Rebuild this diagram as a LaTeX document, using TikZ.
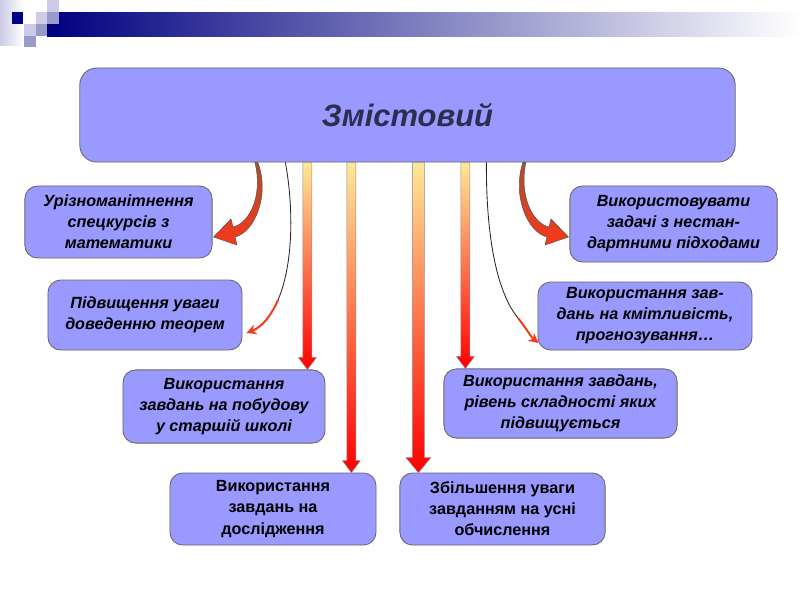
\documentclass[tikz,border=0pt]{standalone}
\usepackage{fontspec}
\setmainfont{Liberation Sans}
\usetikzlibrary{calc,arrows.meta}

\definecolor{boxblue}{RGB}{153,153,255}
\definecolor{navy}{RGB}{0,0,128}
\definecolor{lilac}{RGB}{204,204,230}
\definecolor{lilacmid}{RGB}{153,153,204}
\definecolor{pale}{RGB}{255,232,150}
\definecolor{arrred}{RGB}{250,55,25}
\definecolor{arrbrown}{RGB}{165,80,50}
\definecolor{titletext}{RGB}{45,45,80}

\begin{document}
\begin{tikzpicture}[
  x=0.025cm, y=-0.025cm,
  box/.style={draw=black!60, line width=0.6pt, rounded corners=9pt, fill=boxblue,
              align=center, inner sep=2pt, minimum height=1.8cm,
              font=\fontsize{11.5}{15}\selectfont\bfseries\itshape},
  boxup/.style={box, font=\fontsize{11.5}{15}\selectfont\bfseries},
  gradarr/.style={top color=pale, bottom color=red, draw=black!45, line width=0.3pt},
  curvarr/.style={top color=arrbrown, bottom color=arrred, draw=black!70, line width=0.3pt},
  wire/.style={draw=black!85, line width=0.6pt},
  tipline/.style={draw=arrred, line width=1.4pt, -{Stealth[length=7pt,width=7pt]}},
]
\useasboundingbox (0,0) rectangle (800,600);

%% ---------- slide decoration ----------
\shade[left color=lilac, right color=white] (0,0) rectangle (24,45);
\shade[left color=navy, right color=white] (47,12) rectangle (800,36);
\fill[lilac] (47,0) rectangle (59,12);
\fill[lilacmid] (47,12) rectangle (59,24);
\fill[lilac] (36,12) rectangle (47,24);
\fill[navy] (47,24) rectangle (59,36);
\fill[lilac] (24,24) rectangle (36,36);
\fill[lilacmid] (36,24) rectangle (47,36);
\fill[lilacmid] (24,36) rectangle (36,47);
\fill[navy] (12,12) rectangle (23,24);

%% ---------- boxes ----------
\node[box, minimum width=16.38cm, minimum height=2.35cm, rounded corners=12pt,
      font=\fontsize{22}{26}\selectfont\bfseries\itshape, text=titletext] (main) at (407.5,115) {Змістовий};

\node[box, minimum width=4.68cm] (b1) at (118.5,222) {Урізноманітнення\\спецкурсів з\\математики};
\node[box, minimum width=4.85cm, minimum height=1.75cm] (b2) at (145,315) {Підвищення уваги\\доведенню теорем};
\node[box, minimum width=5.05cm, minimum height=1.83cm] (b3) at (224,406.5) {Використання\\завдань на побудову\\у старшій школі};
\node[boxup, minimum width=5.15cm] (b4) at (273,509) {Використання\\завдань на\\дослідження};
\node[boxup, minimum width=5.13cm] (b5) at (502.5,509) {Збільшення уваги\\завданням на усні\\обчислення};
\node[box, minimum width=5.83cm, minimum height=1.73cm] (b6) at (560.5,403.5) {Використання завдань,\\рівень складності яких\\підвищується};
\node[box, minimum width=5.35cm, minimum height=1.7cm] (b7) at (645,316) {Використання зав-\\дань на кмітливість,\\прогнозування…};
\node[box, minimum width=5.18cm, minimum height=1.9cm] (b8) at (673.5,224) {Використовувати\\задачі з нестан-\\дартними підходами};

%% ---------- straight arrows ----------
\foreach \dx/\tgt/\w/\h/\l in {228/b3/4.5/9/12, 272/b4/4.5/9/12, 339/b5/6/12.5/15, 386/b6/4.5/9/12} {
  \coordinate (top) at ($(main.south west)+(\dx,0)$);
  \coordinate (tip) at (top |- \tgt.north);
  \shade[gradarr] ($(top)+(-\w,0)$) -- ($(top)+(\w,0)$) -- ($(tip)+(\w,-\l)$) -- ($(tip)+(\h,-\l)$)
    -- (tip) -- ($(tip)+(-\h,-\l)$) -- ($(tip)+(-\w,-\l)$) -- cycle;
}

%% ---------- curved arrows, thick ----------
\coordinate (s1) at ($(main.south west)+(177,0)$);
\coordinate (t1) at ($(b1.east)+(1,15)$);
\shade[curvarr] ($(s1)+(-1.5,0)$) -- ($(s1)+(1.5,0)$) .. controls (270,195) and (255,232) .. (235,237)
  -- (237,245) -- (t1) -- (231,219) -- (233,227) .. controls (250,223) and (263,195) .. cycle;

\coordinate (s3) at ($(main.south west)+(445,0)$);
\coordinate (t3) at ($(b8.west)+(-1,13)$);
\shade[curvarr] ($(s3)+(1.5,0)$) -- ($(s3)+(-1.5,0)$) .. controls (512,195) and (527,232) .. (547,237)
  -- (545,245) -- (t3) -- (551,219) -- (549,227) .. controls (532,223) and (519,195) .. cycle;

%% ---------- curved arrows, thin ----------
\coordinate (s2) at ($(main.south west)+(206,0)$);
\coordinate (p2) at (278,300);
\coordinate (t2) at ($(b2.east)+(4,18)$);
\draw[wire] (s2) .. controls (294,210) and (293,265) .. (p2);
\draw[tipline] (p2) .. controls (271,316) and (262,327) .. (t2);

\coordinate (s4) at ($(main.south west)+(407,0)$);
\coordinate (p4) at (518,318);
\coordinate (t4) at ($(b7.west)+(1,27)$);
\draw[wire] (s4) .. controls (486,230) and (495,290) .. (p4);
\draw[tipline] (p4) .. controls (526,328) and (531,337) .. (t4);

\end{tikzpicture}
\end{document}
